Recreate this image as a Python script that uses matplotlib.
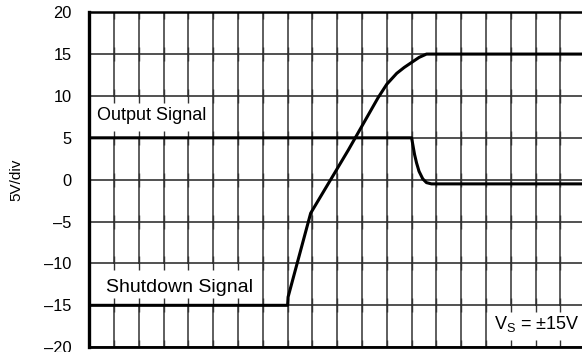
import matplotlib.pyplot as plt
import matplotlib.patches as mpatches
import numpy as np

plt.rcParams["font.family"] = ["Liberation Sans", "DejaVu Sans"]

# Trace data (x in horizontal divisions, y in volts)
out_x = [0, 13.0, 13.06, 13.12, 13.2, 13.3, 13.45, 13.6, 13.8, 20]
out_y = [5, 5, 4.0, 3.0, 2.0, 1.0, 0.1, -0.35, -0.5, -0.5]

shdn_x = [0, 8.0, 8.02, 8.93, 10.45, 11.65, 12.0, 12.4, 12.7, 13.0, 13.3, 13.6, 20]
shdn_y = [-15, -15, -14.0, -4.0, 3.55, 9.8, 11.4, 12.7, 13.4, 14.0, 14.6, 15.0, 15]

y_ticks = [20, 15, 10, 5, 0, -5, -10, -15, -20]
n_div = 20

fig = plt.figure(figsize=(5.82, 3.52), dpi=100)
ax = fig.add_axes([89.2 / 582, 4.8 / 352, (585.2 - 89.2) / 582, 335 / 352])

ax.set_xlim(0, n_div)
ax.set_ylim(-20, 20)

# grid
for i in range(1, n_div):
    ax.axvline(i, color="#333333", lw=1.1, zorder=1)
for v in y_ticks:
    ax.axhline(v, color="#222222", lw=1.1, zorder=1)

# white boxes behind the labels
boxes = [(0, 5.12, 4.95, 4.76), (0, -14.88, 6.95, 4.76), (16.06, -19.85, 4.0, 4.73)]
for bx, by, bw, bh in boxes:
    ax.add_patch(mpatches.Rectangle((bx, by), bw, bh, facecolor="white",
                                    edgecolor="none", zorder=2))

# small ticks on every grid crossing
gx, gy = np.meshgrid(np.arange(1, n_div), y_ticks)
ax.plot(gx.ravel(), gy.ravel(), ls="none", marker="|", ms=10, mew=1.0,
        color="#333333", zorder=3)

ax.plot(out_x, out_y, color="black", lw=2.2, zorder=5, solid_capstyle="butt")
ax.plot(shdn_x, shdn_y, color="black", lw=2.2, zorder=5, solid_capstyle="butt")

ax.text(0.3, 7.14, "Output Signal", fontsize=13, va="baseline", ha="left", zorder=6)
ax.text(0.67, -13.42, "Shutdown Signal", fontsize=14, va="baseline", ha="left", zorder=6)
ax.text(19.75, -17.78, r"V$_\mathregular{S}$ = ±15V", fontsize=13, va="baseline",
        ha="right", zorder=6)

ax.set_xticks([])
ax.set_yticks(y_ticks)
ax.set_yticklabels([str(v).replace("-", "\u2013") for v in y_ticks], fontsize=11.8)
ax.tick_params(axis="y", length=0, pad=12.5)
ax.set_ylabel("5V/div", fontsize=11)
ax.yaxis.set_label_coords(-0.132, 0.5)

ax.spines["right"].set_visible(False)
ax.spines["left"].set_linewidth(2.4)
ax.spines["top"].set_linewidth(1.8)
ax.spines["bottom"].set_linewidth(2.0)
for s in ax.spines.values():
    s.set_zorder(7)

fig.savefig("out.png", dpi=100)
